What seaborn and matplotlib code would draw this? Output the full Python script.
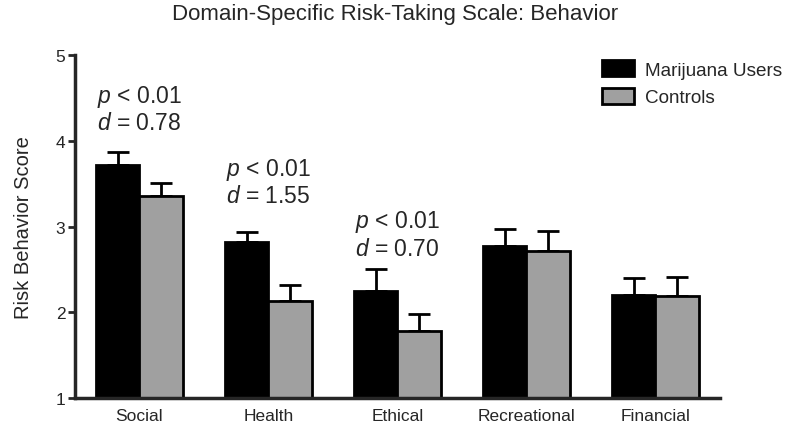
import numpy as np
import pandas as pd
import matplotlib
matplotlib.use("Agg")
import matplotlib.pyplot as plt
import seaborn as sns

# --- data ---
domains = ["Social", "Health", "Ethical", "Recreational", "Financial"]
groups = ["Marijuana Users", "Controls"]
users_mean = [3.72, 2.82, 2.25, 2.77, 2.20]
users_err = [0.15, 0.12, 0.25, 0.20, 0.20]
controls_mean = [3.36, 2.13, 1.78, 2.71, 2.19]
controls_err = [0.15, 0.19, 0.20, 0.24, 0.22]
stats_labels = {"Social": ("0.01", "0.78"), "Health": ("0.01", "1.55"), "Ethical": ("0.01", "0.70")}
stats_y = {"Social": 4.52, "Health": 3.67, "Ethical": 3.06}

sns.set_style("ticks")
plt.rcParams['font.family'] = ['Liberation Sans', 'DejaVu Sans']
plt.rcParams['mathtext.fontset'] = 'custom'
plt.rcParams['mathtext.rm'] = 'Liberation Sans'
plt.rcParams['mathtext.it'] = 'Liberation Sans:italic'

df = pd.DataFrame({
    "domain": domains * 2,
    "group": [groups[0]] * 5 + [groups[1]] * 5,
    "score": users_mean + controls_mean,
    "err": users_err + controls_err,
})

fig = plt.figure(figsize=(7.91, 4.39), dpi=100)
ax = fig.add_axes([0.0948, 0.091, 0.8154, 0.781])

sns.barplot(data=df, x="domain", y="score", hue="group", order=domains, hue_order=groups,
            palette=["#000000", "#a0a0a0"], width=0.68, errorbar=None,
            edgecolor="black", linewidth=2, ax=ax, zorder=2)

# one-sided (upward) error bars, placed from the drawn bars
for cont, g in zip(ax.containers, groups):
    sub = df[df["group"] == g].set_index("domain").loc[domains]
    xs = [p.get_x() + p.get_width() / 2 for p in cont.patches]
    ax.errorbar(xs, sub["score"], yerr=[np.zeros(len(xs)), sub["err"]], fmt="none",
                ecolor="black", elinewidth=2, capsize=8, capthick=2, zorder=1)

for dom, (pv, dv) in stats_labels.items():
    i = domains.index(dom)
    y = stats_y[dom]
    ax.text(i, y, r"$p$ < " + pv, ha="center", va="center", fontsize=16.5)
    ax.text(i, y - 0.31, r"$d$ = " + dv, ha="center", va="center", fontsize=16.5)

ax.set_ylim(1, 5)
ax.set_xlim(-0.5, 4.5)
ax.set_yticks([1, 2, 3, 4, 5])
ax.set_xlabel("")
ax.set_ylabel("Risk Behavior Score", fontsize=14.5, labelpad=16)
ax.tick_params(axis="both", labelsize=12.5, width=2, length=5)
ax.tick_params(axis="x", length=0, pad=7)
ax.tick_params(axis="y", pad=2)
for s in ["left", "bottom"]:
    ax.spines[s].set_linewidth(2.5)
sns.despine(ax=ax)

leg = ax.legend(loc="upper left", bbox_to_anchor=(0.79, 1.035), frameon=False,
                fontsize=13.6, handlelength=1.7, handleheight=0.9, labelspacing=0.5,
                handletextpad=0.6)

fig.suptitle("Domain-Specific Risk-Taking Scale: Behavior", fontsize=16, y=0.99)

fig.savefig("out.png", dpi=100)
